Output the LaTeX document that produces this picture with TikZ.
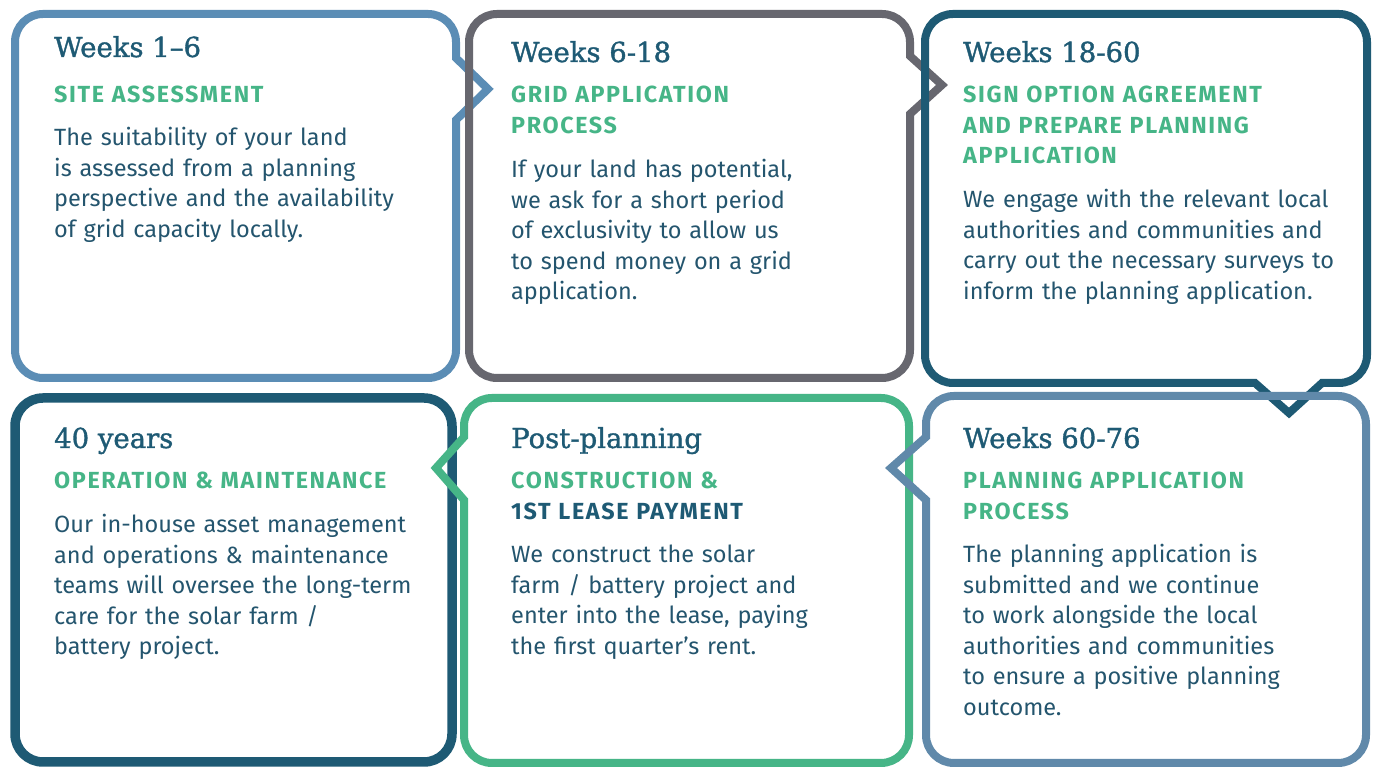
\documentclass[tikz,border=0pt]{standalone}
\usepackage{fontspec}
\setmainfont{Fira Sans}
\newfontfamily\headfont[FakeBold=1.3]{DejaVu Serif}
\newfontfamily\subfont[LetterSpace=7]{Fira Sans}
\definecolor{cblue}{HTML}{5B8DB5}
\definecolor{cgray}{HTML}{67676F}
\definecolor{cdark}{HTML}{1E5A74}
\definecolor{cgreen}{HTML}{46B587}
\definecolor{csteel}{HTML}{6089AA}
\definecolor{ctext}{HTML}{24556E}
\begin{document}
\begin{tikzpicture}[x=1pt,y=1pt,
  frame/.style={line width=8pt, line join=miter, miter limit=10},
  hd/.style={anchor=base west, inner sep=0pt, font=\headfont\fontsize{27.5}{30}\selectfont, text=cdark},
  sub/.style={anchor=base west, inner sep=0pt, text width=420pt, align=left, font=\subfont\bfseries\fontsize{23.3}{30.5}\selectfont, text=cgreen},
  body/.style={anchor=base west, inner sep=0pt, text width=400pt, align=left, font=\fontsize{23.5}{30.5}\selectfont, text=ctext}]
\useasboundingbox (0,0) rectangle (1376,767);
\fill[white] (0,0) rectangle (1376,767);
% Box 1
\draw[frame, cblue] (43,753) -- (428,753) arc[start angle=90,end angle=0,radius=28]
  -- (456,709) -- (488,678) -- (456,647) -- (456,417) arc[start angle=0,end angle=-90,radius=28]
  -- (43,389) arc[start angle=270,end angle=180,radius=28] -- (15,725) arc[start angle=180,end angle=90,radius=28] -- cycle;
% Box 2
\draw[frame, cgray] (497,753) -- (882,753) arc[start angle=90,end angle=0,radius=28]
  -- (910,711) -- (942,682) -- (910,653) -- (910,417) arc[start angle=0,end angle=-90,radius=28]
  -- (497,389) arc[start angle=270,end angle=180,radius=28] -- (469,725) arc[start angle=180,end angle=90,radius=28] -- cycle;
% Box 3
\draw[frame, cdark] (953,753) -- (1339,753) arc[start angle=90,end angle=0,radius=28]
  -- (1367,412) arc[start angle=0,end angle=-90,radius=28]
  -- (1322,384) -- (1289,354) -- (1255,384) -- (953,384) arc[start angle=270,end angle=180,radius=28]
  -- (925,725) arc[start angle=180,end angle=90,radius=28] -- cycle;
% Box 4
\draw[frame, cdark, line width=9.5pt, rounded corners=28pt] (15,5) rectangle (452,369);
% Box 5
\draw[frame, cgreen] (492,369) -- (881,369) arc[start angle=90,end angle=0,radius=28]
  -- (909,32) arc[start angle=0,end angle=-90,radius=28]
  -- (492,4) arc[start angle=270,end angle=180,radius=28]
  -- (464,267) -- (436,299) -- (464,330) -- (464,341) arc[start angle=180,end angle=90,radius=28] -- cycle;
% Box 6
\draw[frame, csteel] (954,371) -- (1338,371) arc[start angle=90,end angle=0,radius=28]
  -- (1366,32) arc[start angle=0,end angle=-90,radius=28]
  -- (954,4) arc[start angle=270,end angle=180,radius=28]
  -- (926,267) -- (891,299) -- (926,330) -- (926,343) arc[start angle=180,end angle=90,radius=28] -- cycle;
% Texts box 1
\node[hd] (h1) at (54,710) {Weeks 1–6};
\node[sub] (s1) at (54,664) {SITE ASSESSMENT};
\node[body] (b1) at (54,621) {The suitability of your land\\is assessed from a planning\\perspective and the availability\\of grid capacity locally.};
% box 2
\node[hd] (h2) at (511,705) {Weeks 6-18};
\node[sub] (s2) at (511,664) {GRID APPLICATION\\PROCESS};
\node[body] (b2) at (511,589) {If your land has potential,\\we ask for a short period\\of exclusivity to allow us\\to spend money on a grid\\application.};
% box 3
\node[hd] (h3) at (963,705) {Weeks 18-60};
\node[sub] (s3) at (963,664) {SIGN OPTION AGREEMENT\\AND PREPARE PLANNING\\APPLICATION};
\node[body] (b3) at (963,559) {We engage with the relevant local\\authorities and communities and\\carry out the necessary surveys to\\inform the planning application.};
% box 4
\node[hd] (h4) at (54,319) {40 years};
\node[sub] (s4) at (54,278) {OPERATION \& MAINTENANCE};
\node[body] (b4) at (54,234) {Our in-house asset management\\and operations \& maintenance\\teams will oversee the long-term\\care for the solar farm /\\battery project.};
% box 5
\node[hd] (h5) at (511,319) {Post-planning};
\node[sub] (s5) at (511,278) {CONSTRUCTION \&\\\textcolor{cdark}{1ST LEASE PAYMENT}};
\node[body] (b5) at (511,204) {We construct the solar\\farm / battery project and\\enter into the lease, paying\\the first quarter’s rent.};
% box 6
\node[hd] (h6) at (963,319) {Weeks 60-76};
\node[sub] (s6) at (963,278) {PLANNING APPLICATION\\PROCESS};
\node[body] (b6) at (963,204) {The planning application is\\submitted and we continue\\to work alongside the local\\authorities and communities\\to ensure a positive planning\\outcome.};
\end{tikzpicture}
\end{document}
